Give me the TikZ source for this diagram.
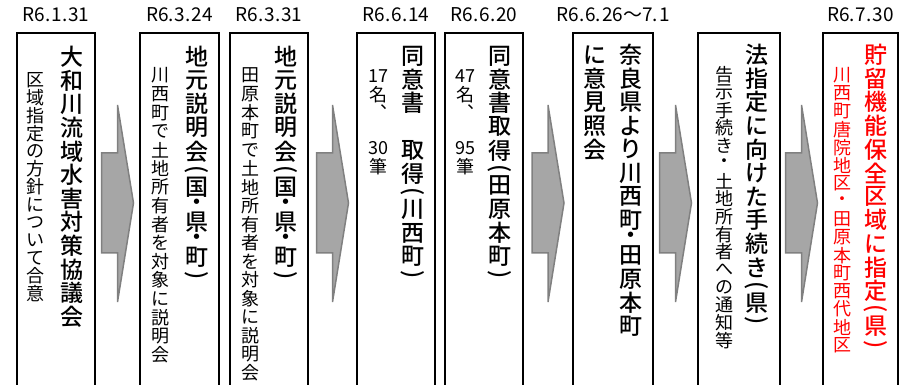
\documentclass[tikz,border=0pt]{standalone}
\usepackage{fontspec}
\setmainfont{Noto Sans CJK JP}[BoldFont={Noto Sans CJK JP Medium}]
\usepackage{graphicx}
\usetikzlibrary{calc}

% vertical (tategaki) columns: one cell per character
\makeatletter
\newlength\tatepitch
\def\tate@po{︵}\def\tate@pc{︶}\def\tate@hd{･}
\newcommand\tatecell[2]{\vbox to #1\tatepitch{\vss\hbox to 1em{\hss#2\hss}\vss}}
\newcommand\tate[2]{\setlength\tatepitch{#1}%
  \vbox{\offinterlineskip\@tfor\tate@i:=#2\do{%
    \ifx\tate@i\tate@po\tatecell{.5}{\rotatebox{-90}{(}}%
    \else\ifx\tate@i\tate@pc\tatecell{.5}{\rotatebox{-90}{)}}%
    \else\ifx\tate@i\tate@hd\tatecell{.5}{・}%
    \else\tatecell{1}{\tate@i}\fi\fi\fi}}}
\makeatother

\begin{document}
\begin{tikzpicture}[x=1pt,y=-1pt,
  stepbox/.style={draw, line width=1.6pt, anchor=north west, minimum height=380, inner sep=0pt, outer sep=0pt},
  datelabel/.style={anchor=base, inner sep=0pt, font=\fontsize{19}{19}\selectfont},
  titletext/.style={anchor=north, inner sep=0pt, font=\fontsize{23}{23}\selectfont\bfseries},
  subtext/.style={anchor=north, inner sep=0pt, font=\fontsize{18}{18}\selectfont},
  arrowfill/.style={fill=black!35, draw=black!50, line width=1.5pt},
  blockarrow/.pic={\draw[arrowfill] (-16,-50) -- (0,-50) -- (0,-98) -- (16,0) -- (0,99) -- (0,50) -- (-16,50) -- cycle;}]

\useasboundingbox (0,0) rectangle (914,385);

% boxes
\foreach \n/\x/\w in {1/17/78,2/140/79,3/230/78,4/357/78,5/445/78,6/573/80,7/698/82,8/823/75}
  \node[stepbox, minimum width=\w] (b\n) at (\x,33) {};

% arrows between the boxes
\foreach \a/\b in {1/2,3/4,5/6,6/7,7/8}
  \pic at ($(b\a.north east)!.5!(b\b.north west)+(0,170)$) {blockarrow};

% dates
\node[datelabel] (d1) at ($(b1.north)+(0,-11)$) {R6.\kern1pt1.\kern1pt31};
\node[datelabel] (d2) at ($(b2.north)+(0,-11)$) {R6.\kern1pt3.\kern1pt24};
\node[datelabel] (d3) at ($(b3.north)+(0,-11)$) {R6.\kern1pt3.\kern1pt31};
\node[datelabel] (d4) at ($(b4.north)+(0,-11)$) {R6.\kern1pt6.\kern1pt14};
\node[datelabel] (d5) at ($(b5.north)+(0,-11)$) {R6.\kern1pt6.\kern1pt20};
\node[datelabel] (d6) at ($(b6.north)+(0,-11)$) {R6.\kern1pt6.\kern1pt26～7.\kern1pt1};
\node[datelabel] (d7) at ($(b8.north)+(0,-11)$) {R6.\kern1pt7.\kern1pt30};

% texts
\node[titletext] (t1) at (72,45) {\tate{23.6pt}{大和川流域水害対策協議会}};
\node[subtext] (s1) at (36,71) {\tate{17.8pt}{区域指定の方針について合意}};

\node[titletext] (t2) at (197,45) {\tate{23.6pt}{地元説明会︵国･県･町︶}};
\node[subtext] (s2) at (160,66) {\tate{18.6pt}{川西町で土地所有者を対象に説明会}};

\node[titletext] (t3) at (286,45) {\tate{23.6pt}{地元説明会︵国･県･町︶}};
\node[subtext] (s3) at (250,66) {\tate{18.6pt}{田原本町で土地所有者を対象に説明会}};

\node[titletext] (t4) at (413,44) {\tate{23.6pt}{同意書　取得︵川西町︶}};
\node[subtext] (s4) at (378,67) {\tate{18pt}{{17}名︑　{30}筆}};

\node[titletext] (t5) at (500,44) {\tate{23.6pt}{同意書取得︵田原本町︶}};
\node[subtext] (s5) at (465,67) {\tate{18pt}{{47}名︑　{95}筆}};

\node[titletext] (t6) at (631,43) {\tate{23.6pt}{奈良県より川西町･田原本町}};
\node[titletext] (t6b) at (595,43) {\tate{23.6pt}{に意見照会}};

\node[titletext] (t7) at (757,43) {\tate{23.6pt}{法指定に向けた手続き︵県︶}};
\node[subtext] (s7) at (724,66) {\tate{17.7pt}{告示手続き・土地所有者への通知等}};

\node[titletext, text=red] (t8) at (876,43) {\tate{23.6pt}{貯留機能保全区域に指定︵県︶}};
\node[subtext, text=red] (s8) at (842,66) {\tate{18pt}{川西町唐院地区・田原本町西代地区}};

\end{tikzpicture}
\end{document}
